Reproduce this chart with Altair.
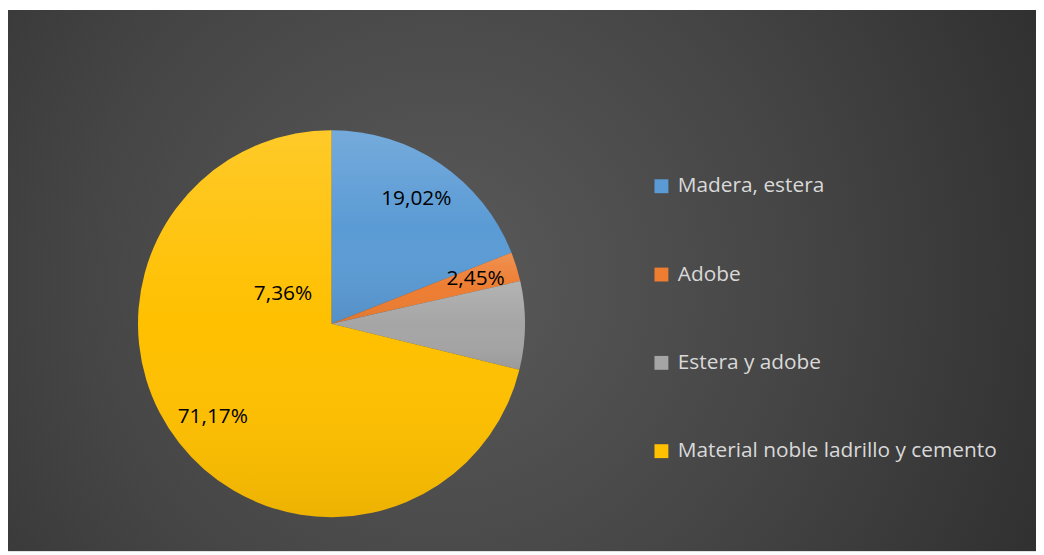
import altair as alt
import pandas as pd

categories = ["Madera, estera", "Adobe", "Estera y adobe", "Material noble ladrillo y cemento"]
values = [19.02, 2.45, 7.36, 71.17]
colors = ["#5b9bd5", "#ed7d31", "#a5a5a5", "#ffc000"]

W, H = 1036, 545
CX, CY, R = 326, 316, 195
FONT = "Open Sans"

df = pd.DataFrame({"cat": categories, "value": values, "order": list(range(len(categories)))})
bg_df = pd.DataFrame({"k": [0]})

theta_scale = alt.Scale(domain=[0, 100])

bg = alt.Chart(bg_df).mark_rect(
    fill=alt.Gradient(
        gradient="radial",
        stops=[alt.GradientStop(color="#5a5a5a", offset=0),
               alt.GradientStop(color="#454545", offset=0.45),
               alt.GradientStop(color="#262626", offset=1)],
        x1=0.42, y1=0.5, r1=0, x2=0.42, y2=0.5, r2=0.78,
    )
).encode(x=alt.value(0), x2=alt.value(W), y=alt.value(0), y2=alt.value(H))

base = alt.Chart(df).encode(
    theta=alt.Theta("value:Q", stack=True, scale=theta_scale),
    order=alt.Order("order:Q"),
    x=alt.value(CX), y=alt.value(CY),
)

pie = base.mark_arc(outerRadius=R, stroke=None).encode(
    color=alt.Color(
        "cat:N",
        scale=alt.Scale(domain=categories, range=colors),
        sort=categories,
        legend=alt.Legend(
            title=None, orient="none", legendX=648, legendY=167,
            symbolType="square", symbolSize=196, symbolStrokeWidth=0,
            symbolOpacity=1,
            labelFont=FONT, labelFontSize=21, labelColor="#d9d9d9",
            labelLimit=600, rowPadding=67, labelOffset=6,
        ),
    )
)

shade = base.mark_arc(
    outerRadius=R,
    fill=alt.Gradient(
        gradient="linear",
        stops=[alt.GradientStop(color="rgba(255,255,255,0.16)", offset=0),
               alt.GradientStop(color="rgba(255,255,255,0.0)", offset=0.5),
               alt.GradientStop(color="rgba(0,0,0,0.07)", offset=1)],
        x1=0, y1=0, x2=0, y2=1,
    ),
)

lab = alt.Chart(df).transform_window(
    cum="sum(value)", sort=[alt.SortField("order")], frame=[None, 0]
).transform_calculate(
    mid="datum.cum - datum.value / 2",
    label="replace(format(datum.value, '.2f'), '.', ',') + '%'",
).encode(
    theta=alt.Theta("mid:Q", stack=False, scale=theta_scale),
    x=alt.value(CX), y=alt.value(CY),
    text="label:N",
)

labels = lab.transform_filter(alt.datum.cat != "Estera y adobe").mark_text(
    radius=152, font=FONT, fontSize=21, color="#000000"
)

label_gray = lab.transform_filter(alt.datum.cat == "Estera y adobe").mark_text(
    radius=57, thetaOffset=3.674, font=FONT, fontSize=21, color="#000000"
)

chart = alt.layer(bg, pie, shade, labels, label_gray).properties(
    width=W, height=H,
    autosize=alt.AutoSizeParams(type="none"),
    padding=0,
).configure_view(stroke=None).configure(background="white")

chart.save("out.html", embed_options={"renderer": "svg", "actions": False})
